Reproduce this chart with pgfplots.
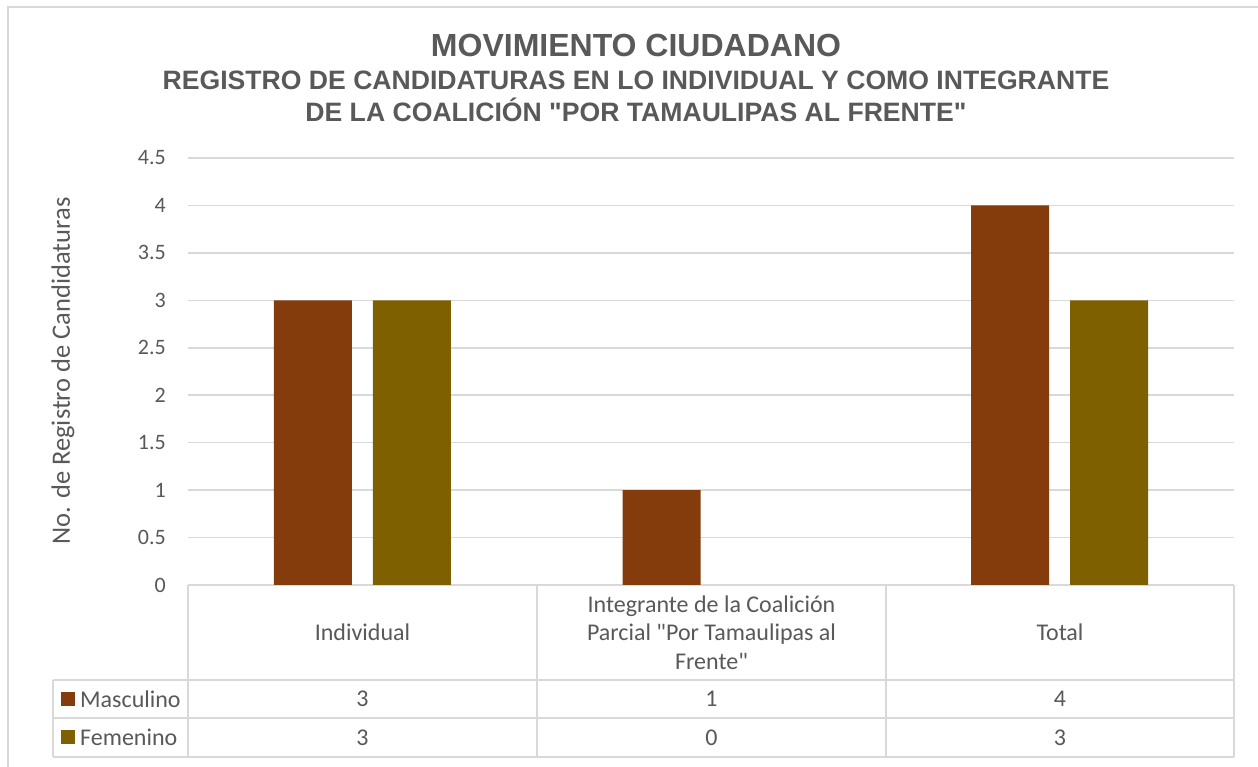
\documentclass[border=0pt]{standalone}
\usepackage{pgfplots}
\pgfplotsset{compat=1.18}
\usepackage{fontspec}
\setmainfont{Carlito}
\newfontfamily\titlefont{Liberation Sans}
\definecolor{masc}{HTML}{843C0C}
\definecolor{fem}{HTML}{7F6000}
\definecolor{txtgray}{HTML}{595959}
\definecolor{gridgray}{HTML}{D9D9D9}
\begin{document}
\begin{tikzpicture}
\useasboundingbox (0pt,0pt) rectangle (1258pt,767pt);
\fill[white] (0pt,0pt) rectangle (1258pt,767pt);
% outer chart frame
\draw[gridgray, line width=1.5pt] (8pt,-5pt) -- (8pt,760pt) -- (1265pt,760pt);
% titles
\node[txtgray, font=\titlefont\bfseries\fontsize{32}{36}\selectfont, anchor=base] at (636pt,710pt) {MOVIMIENTO CIUDADANO};
\node[txtgray, font=\titlefont\bfseries\fontsize{26.6}{30}\selectfont, anchor=base] at (636pt,677pt) {REGISTRO DE CANDIDATURAS EN LO INDIVIDUAL Y COMO INTEGRANTE};
\node[txtgray, font=\titlefont\bfseries\fontsize{26.6}{30}\selectfont, anchor=base] at (636pt,645pt) {DE LA COALICIÓN "POR TAMAULIPAS AL FRENTE"};
\begin{axis}[
  at={(188pt,182pt)}, anchor=south west,
  scale only axis, width=1046pt, height=427pt,
  xmin=-0.5, xmax=2.5, ymin=0, ymax=4.5,
  ytick={0,0.5,1,1.5,2,2.5,3,3.5,4,4.5},
  yticklabels={0,0.5,1,1.5,2,2.5,3,3.5,4,4.5},
  xtick=\empty,
  axis x line=bottom, axis y line=left,
  x axis line style={draw=gridgray, line width=1.5pt, -},
  y axis line style={draw=none},
  major tick length=0pt,
  ymajorgrids, grid style={gridgray, line width=1.5pt},
  yticklabel style={font=\fontsize{22}{26}\selectfont, text=txtgray, inner sep=0pt, anchor=east, xshift=-22pt},
  /pgf/number format/assume math mode=true,
  ybar=21pt, bar width=78pt,
  clip=false,
]
% Masculino
\addplot[draw=none, fill=masc] coordinates {(0,3) (1,1) (2,4)};
% Femenino (value 0 at x=1 is not drawn, as in the source)
\addplot[draw=none, fill=fem] coordinates {(0,3) (2,3)};
\end{axis}
% y label
\node[txtgray, rotate=90, font=\fontsize{26.5}{30}\selectfont] at (63pt,396pt) {No. de Registro de Candidaturas};
% data table grid
\begin{scope}[gridgray, line width=1.5pt]
\draw (188pt,182pt) -- (188pt,10pt);
\draw (537pt,182pt) -- (537pt,10pt);
\draw (886pt,182pt) -- (886pt,10pt);
\draw (1234pt,182pt) -- (1234pt,10pt);
\draw (53pt,87pt) -- (1234pt,87pt);
\draw (53pt,49pt) -- (1234pt,49pt);
\draw (53pt,10pt) -- (1234pt,10pt);
\draw (53pt,87pt) -- (53pt,10pt);
\end{scope}
% header labels
\begin{scope}[txtgray, font=\fontsize{24}{28.5}\selectfont]
\node at (362.5pt,134.5pt) {Individual};
\node[align=center] at (711.5pt,134.5pt) {Integrante de la Coalición\\Parcial \textquotedbl Por Tamaulipas al\\Frente\textquotedbl};
\node at (1060pt,134.5pt) {Total};
% values
\node at (362.5pt,68pt) {3};
\node at (711.5pt,68pt) {1};
\node at (1060pt,68pt) {4};
\node at (362.5pt,29.5pt) {3};
\node at (711.5pt,29.5pt) {0};
\node at (1060pt,29.5pt) {3};
% legend keys
\fill[masc] (61pt,61pt) rectangle (75pt,75pt);
\node[anchor=west, inner sep=0pt] at (80pt,68pt) {Masculino};
\fill[fem] (61pt,22.5pt) rectangle (75pt,36.5pt);
\node[anchor=west, inner sep=0pt] at (80pt,29.5pt) {Femenino};
\end{scope}
\end{tikzpicture}
\end{document}
